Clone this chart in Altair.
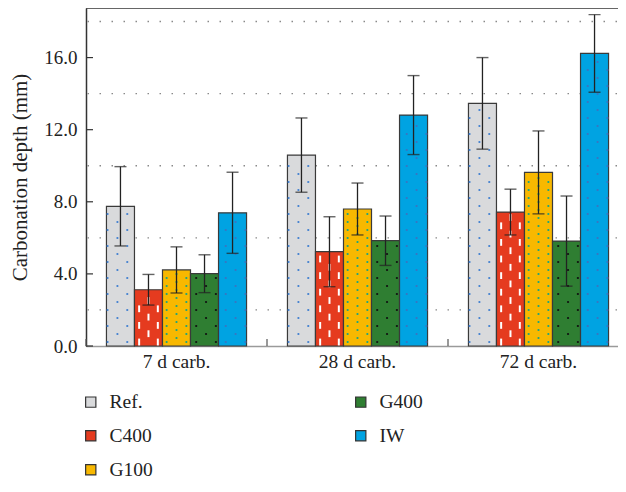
import altair as alt
import pandas as pd

groups = ["7 d carb.", "28 d carb.", "72 d carb."]
series = ["Ref.", "C400", "G100", "G400", "IW"]

ref_mean = [7.75, 10.59, 13.46]
c400_mean = [3.12, 5.23, 7.43]
g100_mean = [4.22, 7.60, 9.63]
g400_mean = [4.01, 5.84, 5.82]
iw_mean = [7.39, 12.81, 16.23]

ref_err = [2.20, 2.06, 2.54]
c400_err = [0.85, 1.94, 1.27]
g100_err = [1.28, 1.44, 2.30]
g400_err = [1.05, 1.37, 2.50]
iw_err = [2.25, 2.19, 2.15]

fill_colors = {"Ref.": "#d9dadc", "C400": "#e53b1f", "G100": "#f8b800", "G400": "#2f7e32", "IW": "#00a3e2"}
dot_colors = {"Ref.": "#3f7fd0", "G100": "#14a383", "G400": "#111111", "IW": "#3a74c0"}
pattern_px = {"Ref.": 8.0, "C400": 8.3, "G100": 4.0, "G400": 8.0, "IW": 8.0}

y_ticks = [0, 4, 8, 12, 16]
y_grid = [2, 6, 10, 14, 18]

W, H = 543, 338
YMAX = 18.75
PX = H / YMAX
FONT = "Liberation Serif"

means = [ref_mean, c400_mean, g100_mean, g400_mean, iw_mean]
errs = [ref_err, c400_err, g100_err, g400_err, iw_err]
rows = []
for s, m, e in zip(series, means, errs):
    for g, v, d in zip(groups, m, e):
        rows.append({"group": g, "series": s, "value": v, "lo": v - d, "hi": v + d})
df = pd.DataFrame(rows)

# texture (decoration inside each bar, derived from the bar heights)
subkeys = ["pad0", "pad1"] + [f"{s}|{i}" for s in series for i in range(3)] + ["pad2", "pad3"]
dots, dashes = [], []
for r in rows:
    s = r["series"]
    step = pattern_px[s] / PX
    k = 0
    y = 4 / PX
    while y < r["value"] - 3.5 / PX:
        cols = [0, 2] if k % 2 == 0 else [1]
        for c in cols:
            if s == "C400":
                if y + 3.5 / PX < r["value"] - 1 / PX:
                    dashes.append({"group": r["group"], "sub": f"{s}|{c}", "y1": y - 3.4 / PX, "y2": y + 3.4 / PX})
            else:
                dots.append({"group": r["group"], "sub": f"{s}|{c}", "py": y, "dc": dot_colors[s]})
        k += 1
        y += step
dots = pd.DataFrame(dots)
dashes = pd.DataFrame(dashes)

xscale = alt.Scale(domain=groups, paddingInner=0, paddingOuter=0)
xaxis = alt.Axis(title=None, labelAngle=0, ticks=False, domainColor="#9a9a9a", domainWidth=1.5,
                 labelFont=FONT, labelFontSize=19.5, labelColor="#222", labelPadding=6)
x_enc = alt.X("group:N", sort=groups, scale=xscale, axis=xaxis)
yscale = alt.Scale(domain=[0, YMAX], nice=False, zero=True)
yaxis = alt.Axis(title="Carbonation depth (mm)", values=y_ticks, format=".1f", ticks=False, grid=False,
                 domainColor="#333", domainWidth=1.5, labelFont=FONT, labelFontSize=19, labelColor="#222",
                 labelPadding=9, titleFont=FONT, titleFontSize=21, titleFontWeight="normal",
                 titleColor="#222", titlePadding=13)
xoff = alt.XOffset("series:N", sort=series, scale=alt.Scale(domain=series, paddingInner=0, paddingOuter=0.73))
xoff_sub = alt.XOffset("sub:N", sort=subkeys, scale=alt.Scale(domain=subkeys, paddingInner=0, paddingOuter=0.19))

grid = alt.Chart(pd.DataFrame({"v": y_grid})).mark_rule(color="#8a8a8a", strokeWidth=1.3, strokeDash=[1.5, 10.5]).encode(
    y=alt.Y("v:Q", scale=yscale, axis=yaxis))

bars = alt.Chart(df).mark_bar(stroke="#3a3a3a", strokeWidth=1.2).encode(
    x=x_enc, xOffset=xoff, y=alt.Y("value:Q", scale=yscale, axis=yaxis),
    color=alt.Color("series:N", scale=alt.Scale(domain=series, range=[fill_colors[s] for s in series]),
                    legend=alt.Legend(title=None, orient="none", legendX=-5, legendY=384, columns=2,
                                      symbolType="square", symbolSize=105, symbolStrokeColor="#333",
                                      symbolStrokeWidth=1.2, labelFont=FONT, labelFontSize=19.5,
                                      labelColor="#222", labelOffset=9, columnPadding=198, rowPadding=13,
                                      padding=0)))

dot_layer = alt.Chart(dots).mark_circle(size=5, opacity=1).encode(
    x=x_enc, xOffset=xoff_sub, y=alt.Y("py:Q", scale=yscale, axis=yaxis),
    fill=alt.Fill("dc:N", scale=None))

dash_layer = alt.Chart(dashes).mark_rule(color="white", strokeWidth=2).encode(
    x=x_enc, xOffset=xoff_sub, y=alt.Y("y1:Q", scale=yscale, axis=yaxis), y2="y2:Q")

err_rule = alt.Chart(df).mark_rule(color="#222", strokeWidth=1.3).encode(
    x=x_enc, xOffset=xoff, y=alt.Y("lo:Q", scale=yscale, axis=yaxis), y2="hi:Q")
cap_hi = alt.Chart(df).mark_tick(color="#222", size=12, thickness=1.4).encode(
    x=x_enc, xOffset=xoff, y=alt.Y("hi:Q", scale=yscale, axis=yaxis))
cap_lo = alt.Chart(df).mark_tick(color="#222", size=12, thickness=1.4).encode(
    x=x_enc, xOffset=xoff, y=alt.Y("lo:Q", scale=yscale, axis=yaxis))

ytick_layer = alt.Chart(pd.DataFrame({"v": y_ticks})).mark_rule(color="#333", strokeWidth=1.2).encode(
    y=alt.Y("v:Q", scale=yscale, axis=yaxis), x=alt.value(0), x2=alt.value(7))

gdf = pd.DataFrame({"group": groups})
xtick_layer = alt.Chart(gdf).mark_rule(color="#555", strokeWidth=1.2).encode(
    x=alt.X("group:N", sort=groups, scale=xscale, axis=xaxis, bandPosition=0),
    y=alt.value(H), y2=alt.value(H - 7))

top_border = alt.Chart(gdf.head(1)).mark_rule(color="#333", strokeWidth=1.5).encode(
    x=alt.value(0), x2=alt.value(W), y=alt.value(0))

chart = alt.layer(grid, bars, dot_layer, dash_layer, err_rule, cap_hi, cap_lo, ytick_layer, xtick_layer, top_border
).resolve_scale(xOffset="independent").properties(
    width=W, height=H, autosize=alt.AutoSizeParams(type="none"),
    padding={"left": 78, "top": 0, "right": -11, "bottom": 136}
).configure_view(strokeWidth=0)

chart.save("out.html", embed_options={"renderer": "svg", "actions": False})
